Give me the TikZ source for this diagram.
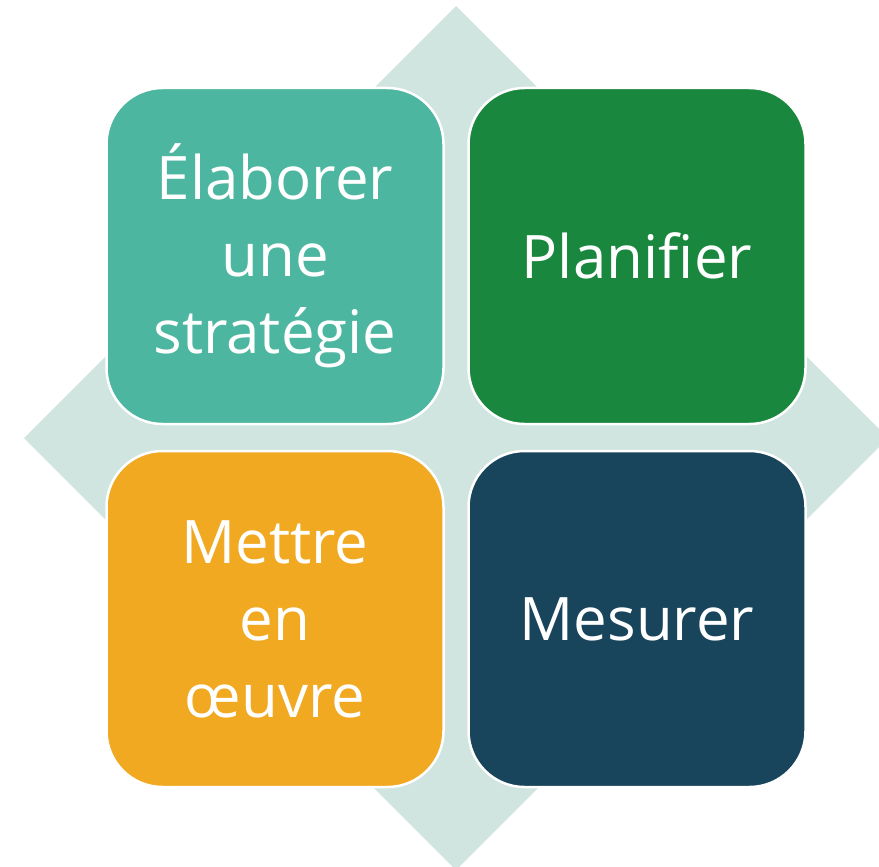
\documentclass[tikz,border=0pt]{standalone}
\usepackage{fontspec}
\setmainfont{Open Sans}[Ligatures=NoCommon]
\usetikzlibrary{positioning}

\definecolor{backdiamond}{HTML}{D0E5E0}
\definecolor{tealbox}{HTML}{4DB6A0}
\definecolor{greenbox}{HTML}{1A873E}
\definecolor{orangebox}{HTML}{F2A922}
\definecolor{navybox}{HTML}{18455C}

\begin{document}
\begin{tikzpicture}[x=1pt,y=-1pt,
    box/.style={rectangle,rounded corners=56pt,draw=white,line width=2.5pt,
        minimum width=337pt,minimum height=336pt,align=center,text=white,
        font=\fontsize{60}{77}\selectfont}
]

% === Frame ===
\useasboundingbox (0,0) rectangle (879,867);
\clip (0,0) rectangle (879,867);

% === Background diamond ===
\fill[backdiamond] (456,6) -- (24,438) -- (456,870) -- (888,438) -- cycle;

% === Top row ===
\node[box,fill=tealbox] (strategy) at (275,256) {Élaborer\\une\\stratégie};
\node[box,fill=greenbox] (plan) at (637,256) {Planifier};

% === Bottom row ===
\node[box,fill=orangebox] (execute) at (275,619) {Mettre\\en\\œuvre};
\node[box,fill=navybox] (measure) at (637,619) {Mesurer};

\end{tikzpicture}
\end{document}
